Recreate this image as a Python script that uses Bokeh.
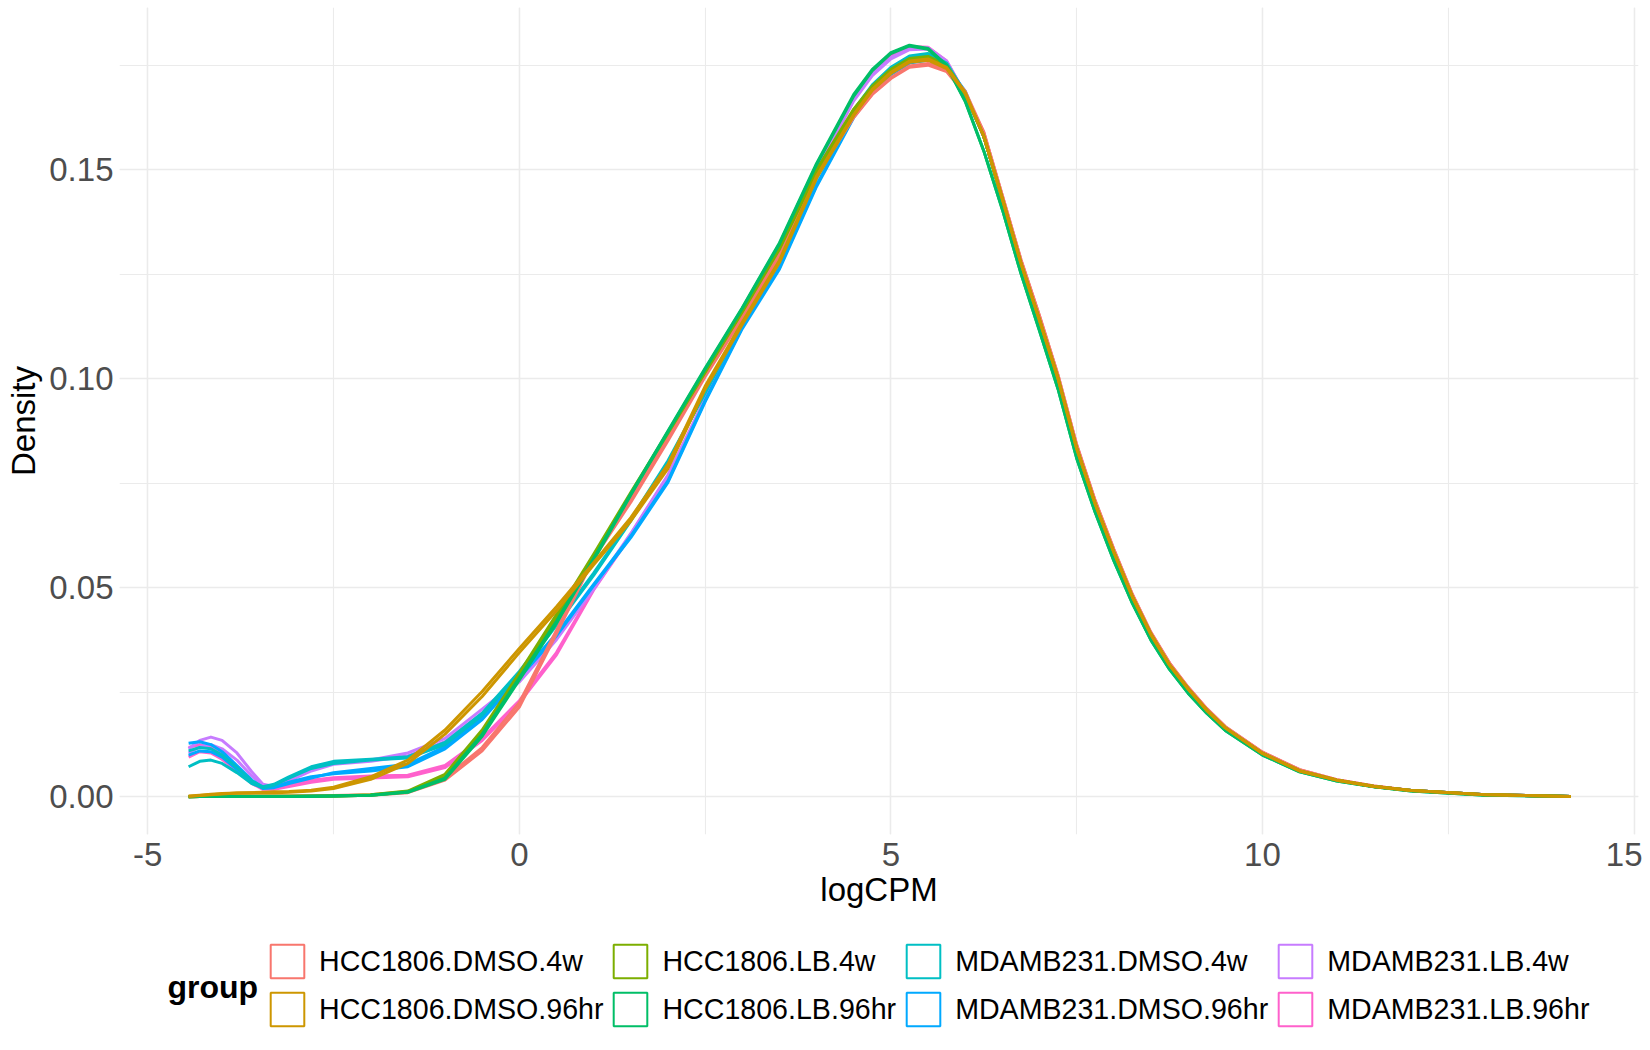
from bokeh.embed import file_html
from bokeh.layouts import column
from bokeh.models import Label, Legend, LegendItem, NumeralTickFormatter, SingleIntervalTicker
from bokeh.plotting import figure
from bokeh.resources import INLINE

# group names and ggplot hue colours (legend order)
groups = ["HCC1806.DMSO.4w", "HCC1806.DMSO.96hr", "HCC1806.LB.4w", "HCC1806.LB.96hr",
          "MDAMB231.DMSO.4w", "MDAMB231.DMSO.96hr", "MDAMB231.LB.4w", "MDAMB231.LB.96hr"]
colors = ["#F8766D", "#CD9600", "#7CAE00", "#00BE67", "#00BFC4", "#00A9FF", "#C77CFF", "#FF61CC"]

# logCPM grid the densities were read at
logcpm = [-4.45, -4.3, -4.15, -4.0, -3.8, -3.6, -3.45, -3.3, -3.1, -2.8, -2.5, -2.0, -1.5, -1.0, -0.5,
          0.0, 0.5, 1.0, 1.5, 2.0, 2.5, 3.0, 3.5, 4.0, 4.5, 4.75, 5.0, 5.25, 5.5, 5.75, 6.0,
          6.25, 6.5, 6.75, 7.0, 7.25, 7.5, 7.75, 8.0, 8.25, 8.5, 8.75, 9.0, 9.25, 9.5,
          10.0, 10.5, 11.0, 11.5, 12.0, 13.0, 14.15]

# right-hand tails (6.25 .. 14.15), the curves almost coincide there
right_a = [0.1580, 0.1430, 0.1276, 0.1140, 0.1000, 0.0833, 0.0700, 0.0585, 0.0478, 0.0388, 0.0315, 0.0258, 0.0207, 0.0165,
           0.0104, 0.0062, 0.0040, 0.0025, 0.0015, 0.0005, 0.0001]
right_b = [0.1590, 0.1438, 0.1285, 0.1150, 0.1008, 0.0842, 0.0708, 0.0592, 0.0484, 0.0393, 0.0320, 0.0262, 0.0211, 0.0168,
           0.0107, 0.0065, 0.0041, 0.0026, 0.0015, 0.0005, 0.0001]
right_c = [0.1545, 0.1405, 0.1252, 0.1115, 0.0975, 0.0810, 0.0680, 0.0565, 0.0463, 0.0375, 0.0305, 0.0248, 0.0200, 0.0159,
           0.0100, 0.0060, 0.0038, 0.0024, 0.0014, 0.0004, 0.0001]

# left tails (-4.45 .. -0.5) and bodies (0 .. 6) per replicate
hcc_dmso_4w_1_tail = [0.0000, 0.0001, 0.0001, 0.0001, 0.0001, 0.0001, 0.0001, 0.0001, 0.0001, 0.0002, 0.0002, 0.0004, 0.0010, 0.0040, 0.0110]
hcc_dmso_4w_1_body = [0.0215, 0.0390, 0.0570, 0.0705, 0.0852, 0.1005, 0.1145, 0.1290, 0.1485, 0.1625, 0.1680, 0.1718, 0.1745, 0.1750, 0.1735, 0.1680]
hcc_dmso_4w_2_tail = [0.0000, 0.0001, 0.0002, 0.0002, 0.0002, 0.0002, 0.0002, 0.0002, 0.0002, 0.0002, 0.0003, 0.0005, 0.0013, 0.0045, 0.0118]
hcc_dmso_4w_2_body = [0.0225, 0.0398, 0.0575, 0.0712, 0.0858, 0.1010, 0.1150, 0.1297, 0.1490, 0.1628, 0.1682, 0.1720, 0.1748, 0.1754, 0.1740, 0.1688]

hcc_dmso_96_1_tail = [0.0002, 0.0004, 0.0006, 0.0008, 0.0009, 0.0010, 0.0010, 0.0010, 0.0011, 0.0014, 0.0020, 0.0042, 0.0080, 0.0150, 0.0240]
hcc_dmso_96_1_body = [0.0345, 0.0445, 0.0555, 0.0660, 0.0785, 0.0975, 0.1130, 0.1278, 0.1480, 0.1630, 0.1690, 0.1730, 0.1757, 0.1762, 0.1742, 0.1682]
hcc_dmso_96_2_tail = [0.0001, 0.0003, 0.0005, 0.0007, 0.0009, 0.0010, 0.0011, 0.0012, 0.0013, 0.0016, 0.0023, 0.0048, 0.0088, 0.0160, 0.0252]
hcc_dmso_96_2_body = [0.0355, 0.0455, 0.0560, 0.0668, 0.0795, 0.0982, 0.1135, 0.1283, 0.1485, 0.1632, 0.1692, 0.1733, 0.1760, 0.1765, 0.1745, 0.1685]

hcc_lb_4w_1_tail = [0.0000, 0.0001, 0.0001, 0.0001, 0.0001, 0.0001, 0.0001, 0.0001, 0.0001, 0.0001, 0.0002, 0.0004, 0.0012, 0.0050, 0.0155]
hcc_lb_4w_1_body = [0.0290, 0.0430, 0.0575, 0.0725, 0.0870, 0.1015, 0.1160, 0.1310, 0.1495, 0.1640, 0.1695, 0.1735, 0.1762, 0.1768, 0.1748, 0.1680]
hcc_lb_4w_2_tail = [0.0000, 0.0001, 0.0001, 0.0002, 0.0002, 0.0002, 0.0002, 0.0002, 0.0002, 0.0002, 0.0002, 0.0005, 0.0014, 0.0054, 0.0160]
hcc_lb_4w_2_body = [0.0296, 0.0436, 0.0580, 0.0728, 0.0872, 0.1018, 0.1163, 0.1313, 0.1500, 0.1645, 0.1700, 0.1740, 0.1766, 0.1771, 0.1750, 0.1682]

hcc_lb_96_1_tail = [0.0000, 0.0001, 0.0001, 0.0001, 0.0001, 0.0001, 0.0001, 0.0001, 0.0001, 0.0001, 0.0002, 0.0004, 0.0012, 0.0045, 0.0150]
hcc_lb_96_1_body = [0.0285, 0.0420, 0.0570, 0.0725, 0.0875, 0.1025, 0.1170, 0.1325, 0.1515, 0.1680, 0.1740, 0.1780, 0.1798, 0.1790, 0.1750, 0.1665]
hcc_lb_96_2_tail = [0.0000, 0.0001, 0.0001, 0.0001, 0.0001, 0.0001, 0.0001, 0.0001, 0.0001, 0.0002, 0.0002, 0.0004, 0.0011, 0.0042, 0.0145]
hcc_lb_96_2_body = [0.0280, 0.0416, 0.0566, 0.0722, 0.0873, 0.1023, 0.1168, 0.1322, 0.1512, 0.1676, 0.1737, 0.1778, 0.1796, 0.1788, 0.1748, 0.1663]

mda_dmso_4w_1_tail = [0.0072, 0.0085, 0.0088, 0.0080, 0.0058, 0.0032, 0.0022, 0.0028, 0.0045, 0.0068, 0.0080, 0.0088, 0.0093, 0.0125, 0.0195]
mda_dmso_4w_1_body = [0.0295, 0.0410, 0.0530, 0.0660, 0.0800, 0.0965, 0.1135, 0.1280, 0.1480, 0.1640, 0.1700, 0.1742, 0.1770, 0.1776, 0.1752, 0.1680]
mda_dmso_4w_2_tail = [0.0110, 0.0118, 0.0115, 0.0100, 0.0070, 0.0038, 0.0024, 0.0030, 0.0048, 0.0072, 0.0085, 0.0090, 0.0096, 0.0130, 0.0200]
mda_dmso_4w_2_body = [0.0300, 0.0415, 0.0535, 0.0664, 0.0804, 0.0968, 0.1138, 0.1284, 0.1484, 0.1643, 0.1703, 0.1745, 0.1772, 0.1778, 0.1755, 0.1683]

mda_dmso_96_1_tail = [0.0128, 0.0132, 0.0125, 0.0108, 0.0075, 0.0040, 0.0022, 0.0024, 0.0035, 0.0048, 0.0055, 0.0062, 0.0072, 0.0115, 0.0185]
mda_dmso_96_1_body = [0.0285, 0.0385, 0.0505, 0.0620, 0.0752, 0.0945, 0.1120, 0.1262, 0.1460, 0.1625, 0.1685, 0.1728, 0.1755, 0.1762, 0.1745, 0.1685]
mda_dmso_96_2_tail = [0.0100, 0.0110, 0.0108, 0.0095, 0.0066, 0.0035, 0.0020, 0.0022, 0.0032, 0.0045, 0.0058, 0.0068, 0.0078, 0.0120, 0.0190]
mda_dmso_96_2_body = [0.0290, 0.0390, 0.0508, 0.0624, 0.0756, 0.0948, 0.1123, 0.1266, 0.1464, 0.1628, 0.1688, 0.1731, 0.1758, 0.1765, 0.1748, 0.1688]

mda_lb_4w_1_tail = [0.0115, 0.0135, 0.0143, 0.0135, 0.0105, 0.0060, 0.0030, 0.0025, 0.0040, 0.0068, 0.0083, 0.0088, 0.0105, 0.0140, 0.0210]
mda_lb_4w_1_body = [0.0280, 0.0380, 0.0500, 0.0630, 0.0770, 0.0950, 0.1135, 0.1295, 0.1500, 0.1668, 0.1728, 0.1768, 0.1790, 0.1792, 0.1760, 0.1680]
mda_lb_4w_2_tail = [0.0105, 0.0120, 0.0125, 0.0115, 0.0088, 0.0050, 0.0026, 0.0024, 0.0038, 0.0062, 0.0078, 0.0085, 0.0098, 0.0132, 0.0200]
mda_lb_4w_2_body = [0.0275, 0.0376, 0.0497, 0.0627, 0.0767, 0.0948, 0.1133, 0.1293, 0.1497, 0.1665, 0.1725, 0.1765, 0.1787, 0.1789, 0.1757, 0.1678]

mda_lb_96_1_tail = [0.0095, 0.0108, 0.0105, 0.0090, 0.0062, 0.0032, 0.0018, 0.0018, 0.0025, 0.0035, 0.0042, 0.0045, 0.0048, 0.0070, 0.0135]
mda_lb_96_1_body = [0.0225, 0.0340, 0.0495, 0.0625, 0.0765, 0.0950, 0.1135, 0.1300, 0.1505, 0.1672, 0.1732, 0.1772, 0.1792, 0.1790, 0.1758, 0.1680]
mda_lb_96_2_tail = [0.0118, 0.0125, 0.0118, 0.0100, 0.0068, 0.0036, 0.0020, 0.0020, 0.0030, 0.0040, 0.0046, 0.0050, 0.0052, 0.0075, 0.0140]
mda_lb_96_2_body = [0.0230, 0.0345, 0.0498, 0.0628, 0.0768, 0.0952, 0.1138, 0.1303, 0.1508, 0.1675, 0.1735, 0.1775, 0.1795, 0.1793, 0.1760, 0.1682]

# drawing order (last on top)
samples = [
    ("MDAMB231.LB.96hr", mda_lb_96_1_tail, mda_lb_96_1_body, right_a),
    ("MDAMB231.LB.96hr", mda_lb_96_2_tail, mda_lb_96_2_body, right_a),
    ("MDAMB231.LB.4w", mda_lb_4w_1_tail, mda_lb_4w_1_body, right_a),
    ("MDAMB231.LB.4w", mda_lb_4w_2_tail, mda_lb_4w_2_body, right_a),
    ("MDAMB231.DMSO.96hr", mda_dmso_96_1_tail, mda_dmso_96_1_body, right_a),
    ("MDAMB231.DMSO.96hr", mda_dmso_96_2_tail, mda_dmso_96_2_body, right_a),
    ("MDAMB231.DMSO.4w", mda_dmso_4w_1_tail, mda_dmso_4w_1_body, right_a),
    ("MDAMB231.DMSO.4w", mda_dmso_4w_2_tail, mda_dmso_4w_2_body, right_a),
    ("HCC1806.DMSO.4w", hcc_dmso_4w_1_tail, hcc_dmso_4w_1_body, right_b),
    ("HCC1806.DMSO.4w", hcc_dmso_4w_2_tail, hcc_dmso_4w_2_body, right_b),
    ("HCC1806.LB.4w", hcc_lb_4w_1_tail, hcc_lb_4w_1_body, right_a),
    ("HCC1806.LB.4w", hcc_lb_4w_2_tail, hcc_lb_4w_2_body, right_a),
    ("HCC1806.LB.96hr", hcc_lb_96_1_tail, hcc_lb_96_1_body, right_c),
    ("HCC1806.LB.96hr", hcc_lb_96_2_tail, hcc_lb_96_2_body, right_c),
    ("HCC1806.DMSO.96hr", hcc_dmso_96_1_tail, hcc_dmso_96_1_body, right_a),
    ("HCC1806.DMSO.96hr", hcc_dmso_96_2_tail, hcc_dmso_96_2_body, right_a),
]

FONT = "Liberation Sans"

# main density panel
fig = figure(width=1642, height=925, x_range=(-5.38, 15.06), y_range=(-0.009, 0.1888),
             output_backend="svg", toolbar_location=None,
             min_border_left=119, min_border_right=4, min_border_top=7, min_border_bottom=91)
fig.outline_line_color = None
fig.background_fill_color = "white"

color_of = dict(zip(groups, colors))
for g, tail, body, right in samples:
    fig.line(logcpm, tail + body + right, line_color=color_of[g], line_width=3, line_join="round")

fig.xaxis.ticker = SingleIntervalTicker(interval=5, num_minor_ticks=2)
fig.yaxis.ticker = SingleIntervalTicker(interval=0.05, num_minor_ticks=2)
fig.xaxis.formatter = NumeralTickFormatter(format="0")
fig.yaxis.formatter = NumeralTickFormatter(format="0.00")
for ax in (fig.xaxis, fig.yaxis):
    ax.axis_line_color = None
    ax.major_tick_line_color = None
    ax.minor_tick_line_color = None
    ax.major_label_text_font = FONT
    ax.major_label_text_font_size = "33px"
    ax.major_label_text_color = "#4D4D4D"
    ax.axis_label_text_font = FONT
    ax.axis_label_text_font_size = "33px"
    ax.axis_label_text_font_style = "normal"
    ax.axis_label_text_color = "black"
fig.yaxis.major_label_standoff = 0
fig.xaxis.major_label_standoff = 2
fig.xaxis.axis_label = "logCPM"
fig.xaxis.axis_label_standoff = 2
fig.yaxis.axis_label = "Density"
fig.yaxis.axis_label_standoff = 4

for grid in (fig.xgrid, fig.ygrid):
    grid.grid_line_color = "#EBEBEB"
    grid.grid_line_width = 1.5
    grid.minor_grid_line_color = "#EBEBEB"
    grid.minor_grid_line_width = 1.1

# legend strip underneath; its frame lines up with the main one, ranges are page pixels
key_fig = figure(width=1642, height=117, x_range=(119, 1638), y_range=(117, 0),
                 output_backend="svg", toolbar_location=None,
                 min_border_left=119, min_border_right=4, min_border_top=0, min_border_bottom=0,
                 x_axis_location=None, y_axis_location=None)
key_fig.outline_line_color = None
key_fig.grid.grid_line_color = None

nan = float("nan")
keys = {}
for g, c in zip(groups, colors):
    keys[g] = key_fig.quad(left=[nan], right=[nan], bottom=[nan], top=[nan], fill_color="white",
                           line_color=c, line_width=2)
legend = Legend(items=[LegendItem(label=g, renderers=[keys[g]]) for g in groups],
                orientation="vertical", nrows=2, location=(147, 12),
                glyph_width=42, glyph_height=42, spacing=6, label_standoff=11,
                padding=0, margin=0, border_line_color=None, background_fill_alpha=0,
                label_text_font=FONT, label_text_font_size="28.6px", label_text_color="black")
key_fig.add_layout(legend)

key_fig.add_layout(Label(x=167, y=61, text="group", text_align="left",
                         text_baseline="alphabetic", text_font=FONT, text_font_size="32px",
                         text_font_style="bold", text_color="black"))

p = column(fig, key_fig)
open("out.html", "w").write(file_html(p, INLINE))
